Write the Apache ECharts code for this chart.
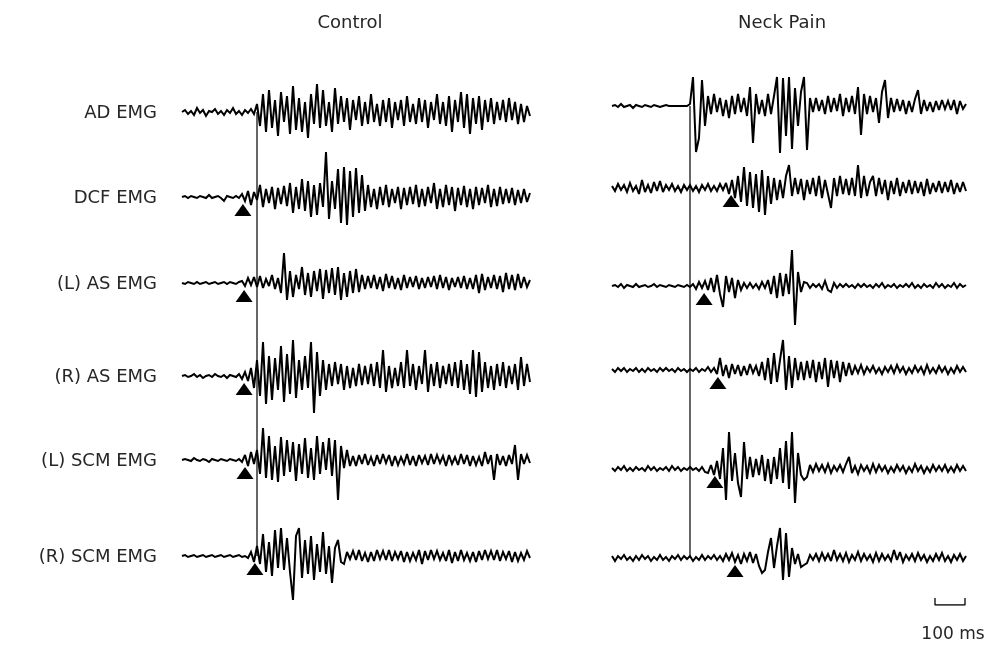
<!DOCTYPE html>
<html>
<head>
<meta charset="utf-8">
<script src="https://cdn.jsdelivr.net/npm/echarts@6/dist/echarts.min.js"></script>
<style>
  html, body { margin: 0; padding: 0; background: #fff; }
  #chart { width: 994px; height: 645px; }
</style>
</head>
<body>
<div id="chart"></div>
<script>
// ---- data -------------------------------------------------------------
const groups = ['Control', 'Neck Pain'];
const muscles = ['AD EMG', 'DCF EMG', '(L) AS EMG', '(R) AS EMG', '(L) SCM EMG', '(R) SCM EMG'];
const sampleMs = 10;          // one sample every 10 ms
const scaleBarMs = 100;

// EMG amplitude (a.u.), Control subject
const controlAD = [0,2,-2,1,-3,4,-1,2,-4,1,0,3,-2,1,-3,2,-1,4,-2,1,-3,2,-1,3,-2,
  8,-14,18,-20,22,-16,12,-24,20,-10,16,-22,26,-18,14,-20,10,-26,18,-12,28,-16,22,-14,10,-20,
  24,-12,16,-10,14,-18,12,-8,16,-14,10,-12,18,-10,8,-14,12,-10,14,-16,10,-8,12,-14,16,-10,8,-12,14,-10,
  12,-16,10,-8,18,-12,10,-14,16,-20,12,-10,20,-16,18,-22,14,-12,16,-18,12,-10,14,-12,10,-8,12,-10,14,-8,10,-12,8,-10,6,-4];
const controlDCF = [0,1,-1,1,0,-1,1,0,-1,2,-1,0,1,-1,-4,1,0,-1,1,-1,
  3,-4,6,-8,5,-3,12,-10,8,-6,10,-12,9,-7,11,-9,
  14,-16,10,-12,18,-14,16,-20,12,-18,14,-10,45,-22,16,-12,28,-26,30,-28,26,-20,29,-16,22,
  -14,12,-10,8,-12,10,-8,12,-10,8,-6,10,-12,9,-8,10,-7,12,-10,8,-9,10,-6,14,-12,8,-10,12,-8,10,
  -14,9,-8,11,-10,8,-12,10,-8,9,-6,12,-10,8,-9,10,-7,8,-6,9,-8,7,-6,8,-5,4];
const controlLAS = [0,-1,1,0,-1,1,-1,0,1,-1,0,1,-1,0,1,-1,1,0,-1,1,
  2,-3,5,-2,6,-4,7,-5,4,-3,8,-6,5,
  -10,30,-17,12,-14,8,-6,16,-12,10,-14,12,-8,14,-16,13,-10,15,-12,16,-17,10,-14,12,-10,14,-9,8,
  -6,7,-5,8,-6,6,-8,9,-5,7,-6,5,-7,8,-5,6,-4,7,-6,5,-5,6,-4,7,-6,8,-5,6,-7,5,
  -4,6,-5,7,-6,5,-6,8,-10,9,-7,6,-5,8,-6,7,-9,10,-6,8,-7,9,-5,6,-4,3];
const controlRAS = [0,1,-1,0,2,-1,1,-2,0,1,-1,2,0,-1,1,-2,1,0,-1,2,-3,4,
  -5,8,-12,16,-20,34,-28,20,-24,18,-14,30,-26,22,-18,36,-22,16,-14,20,-12,34,-37,24,-20,16,
  -14,12,-10,14,-8,12,-14,10,-12,8,-10,12,-9,10,-8,12,-10,14,-12,26,-16,10,-12,8,-10,14,-12,26,-10,12,
  -14,10,-8,26,-16,12,-10,14,-12,10,-8,12,-10,14,-12,16,-14,12,-18,26,-21,24,-16,14,-12,10,-14,12,-10,14,
  -12,10,-8,12,-14,19,-10,12,-6];
const controlLSCM = [0,1,0,-1,2,0,-1,1,0,-2,1,0,-1,1,0,-1,1,0,-1,1,-2,5,
  -6,8,-4,10,-14,32,-18,24,-20,14,-22,23,-16,20,-12,18,-21,16,-14,22,-18,12,-20,24,-14,18,-10,22,-16,20,-40,14,-8,10,-6,
  4,-6,5,-4,6,-5,3,-6,5,-4,6,-3,5,-6,4,-5,3,-4,6,-5,4,-6,5,-3,4,-5,6,-4,5,-3,
  4,-6,5,-4,3,-5,6,-4,5,-6,4,-5,3,-6,8,-4,5,-20,6,-5,4,-6,5,-4,15,-20,6,-4,5,-3];
const controlRSCM = [0,1,-1,0,1,-1,0,1,-1,0,1,-1,0,1,-1,0,1,-1,0,1,-1,0,-2,4,
  -6,10,-8,22,-16,14,-20,26,-12,28,-14,18,-16,-44,20,28,-22,16,-18,20,-24,12,-16,24,-18,10,-27,8,16,-6,
  -8,4,-3,5,-4,6,-5,3,-6,4,-5,6,-3,5,-4,6,-5,4,-3,5,-6,4,-5,3,-4,6,-8,5,-4,6,
  -3,5,-4,3,-5,6,-7,4,-5,6,-4,3,-5,4,-6,5,-4,6,-3,5,-4,6,-5,4,-3,5,-6,4,-5,3,-4,5,-2];

// EMG amplitude (a.u.), Neck Pain subject
const neckAD = [0,1,-1,2,-1,0,1,-2,1,0,-1,1,0,-1,1,0,-1,0,1,0,0,0,0,0,0,0,
  2,29,-46,-32,26,-20,10,-8,12,-6,8,-10,6,-12,10,-8,12,-6,8,-10,
  19,-37,12,-8,6,-10,12,-8,10,29,-47,28,-30,29,-43,18,-20,14,29,-44,8,
  -6,8,-5,6,-8,10,-6,8,-5,12,-10,8,-6,10,-8,19,-29,12,-8,10,-6,8,-17,14,26,-12,8,-6,7,-5,
  6,-8,5,-6,7,16,-8,6,-5,4,-6,5,-4,6,-3,5,-4,6,-8,5,-3,2];
const neckDCF = [2,-3,4,-2,3,-4,5,-3,2,-6,8,-4,3,-5,6,-3,7,-4,3,-2,4,-3,2,-4,3,-2,3,-3,2,-4,3,-2,4,-3,2,-3,4,-2,5,
  -6,8,-10,12,-14,21,-18,16,-20,14,-24,18,-27,12,-16,10,-12,8,
  -10,12,23,-8,10,-6,9,-12,8,-6,10,-8,12,-10,8,-6,-20,10,-8,12,-6,9,-7,10,-8,23,-10,12,-8,6,
  12,-8,10,-6,8,-12,7,-6,10,-8,6,-5,8,-6,7,-5,6,-8,9,-6,5,-4,7,-5,6,-4,8,-6,5,-4,6,-3];
const neckLAS = [0,1,-1,2,-2,1,0,-1,2,-1,0,1,-1,0,2,-1,1,0,-1,1,0,-1,1,0,-1,1,
  -1,2,-3,4,-2,5,-4,8,-6,11,-8,-21,10,-6,8,
  -12,6,-4,3,-2,3,-2,2,-3,4,-2,6,-8,10,-12,13,-10,12,-8,36,-39,14,-6,4,
  3,-2,2,-1,2,-3,5,-4,-6,3,-2,2,-1,2,-1,1,-2,2,-1,2,-1,1,-2,2,-1,3,-2,1,-1,2,
  -2,1,-1,2,-1,3,-2,1,-2,2,-1,1,-2,3,-1,2,-2,1,-1,3,-2,2,-1,1];
const neckRAS = [1,-2,2,-1,2,-2,1,-1,2,-2,1,-2,2,-1,1,-2,2,-1,2,-1,1,-2,2,-1,1,-2,1,-1,2,-2,1,-1,3,-2,2,
  -4,12,-6,5,-8,6,-4,5,-6,4,-5,6,-3,4,
  -6,8,-10,12,-14,17,-12,10,30,-20,14,-18,12,-10,
  8,-10,9,-8,10,-12,8,-9,12,-17,10,-8,9,-12,8,-6,7,-5,
  4,-3,5,-4,3,-2,4,-3,2,-4,3,-2,4,-3,5,-2,3,-4,2,-3,4,-2,3,-4,5,-3,2,-3,4,-2,3,-4,2,-3,4,-2,3,-2];
const neckLSCM = [1,-2,2,-1,3,-2,1,-2,2,-1,1,-2,3,-1,2,-2,1,-1,2,-2,3,-1,2,-2,1,-1,2,-1,1,-2,2,-3,-4,
  4,-6,8,-10,21,-31,37,-12,16,-14,-28,27,-10,12,-8,10,-6,
  14,-12,10,-15,12,-10,21,-14,28,-20,37,-34,16,
  -6,-11,-8,4,-3,5,-2,4,-3,5,-4,3,-2,4,-3,5,12,-4,3,-5,4,-2,3,-4,5,-3,4,-2,3,-4,
  2,-3,4,-2,3,-4,2,-3,5,-2,3,-4,2,-3,4,-2,3,-2,4,-3,2,-3,4,-2,3,-2];
const neckRSCM = [2,-3,2,-1,3,-2,1,-3,2,-2,3,-1,2,-3,1,-2,3,-2,1,-3,2,-1,3,-2,2,-1,2,-3,1,-2,3,-2,2,-1,3,-2,2,
  -3,4,-2,5,-4,3,-6,4,-3,6,-5,4,-8,
  -15,-12,6,20,-10,12,30,-22,25,-19,10,-6,4,
  -9,-7,-5,3,-2,4,-3,5,-2,4,-3,8,-2,4,-3,5,-4,3,-2,6,-3,4,-2,3,-4,5,-3,4,-2,3,
  -3,8,-2,6,-4,3,-2,4,-3,5,-2,3,-4,2,-3,4,-2,5,-3,2,-4,3,-2,4,-3,2];

// common movement onset (vertical line) and per-muscle onsets (triangles), ms
const controlOnsetMs = 250;
const neckOnsetMs = 260;
const controlMuscleOnsetMs = [null, 203, 207, 207, 210, 243];
const neckMuscleOnsetMs = [null, 397, 307, 353, 343, 410];

// ---- layout -----------------------------------------------------------
const INK = '#000';
const TEXT = '#262626';
const FONT = '"DejaVu Sans", "Noto Sans", sans-serif';
const HALF = 50; // half-height of each trace strip, px

const panels = [
  { title: groups[0], titleX: 350, left: 182, width: 348,
    baselines: [112, 197, 283, 376, 460, 556],
    traces: [controlAD, controlDCF, controlLAS, controlRAS, controlLSCM, controlRSCM],
    onset: controlOnsetMs, muscleOnsets: controlMuscleOnsetMs },
  { title: groups[1], titleX: 782, left: 612, width: 354,
    baselines: [106, 188, 286, 370, 469, 558],
    traces: [neckAD, neckDCF, neckLAS, neckRAS, neckLSCM, neckRSCM],
    onset: neckOnsetMs, muscleOnsets: neckMuscleOnsetMs }
];

const grid = [], xAxis = [], yAxis = [], series = [], graphic = [];
const hidden = { show: false };

function addGrid(g, x, y) {
  const idx = grid.length;
  grid.push(Object.assign({ containLabel: false }, g));
  xAxis.push(Object.assign({ type: 'value', gridIndex: idx, show: false, splitLine: hidden }, x));
  yAxis.push(Object.assign({ type: 'value', gridIndex: idx, show: false, splitLine: hidden }, y));
  return idx;
}

panels.forEach(p => {
  const maxMs = (Math.max(...p.traces.map(t => t.length)) - 1) * sampleMs;
  p.traces.forEach((trace, r) => {
    const gi = addGrid(
      { left: p.left, width: p.width, top: p.baselines[r] - HALF, height: 2 * HALF },
      { min: 0, max: maxMs },
      { min: -HALF, max: HALF });
    series.push({
      type: 'line', xAxisIndex: gi, yAxisIndex: gi, clip: false,
      showSymbol: false, silent: true, animation: false,
      lineStyle: { color: INK, width: 2, join: 'miter', miterLimit: 3 },
      data: trace.map((v, i) => [i * sampleMs, v])
    });
    if (p.muscleOnsets[r] != null) {
      series.push({
        type: 'scatter', xAxisIndex: gi, yAxisIndex: gi, clip: false,
        symbol: 'triangle', symbolSize: [17, 12], symbolOffset: [0, 13],
        itemStyle: { color: INK, opacity: 1 }, silent: true, animation: false,
        data: [[p.muscleOnsets[r], 0]]
      });
    }
  });
  // onset line across all channels
  const gl = addGrid(
    { left: p.left, width: p.width, top: p.baselines[0], height: p.baselines[5] - p.baselines[0] },
    { min: 0, max: maxMs }, { min: 0, max: 1 });
  series.push({
    type: 'line', xAxisIndex: gl, yAxisIndex: gl, showSymbol: false, silent: true, animation: false,
    lineStyle: { color: INK, width: 1.2 },
    data: [[p.onset, 0], [p.onset, 1]]
  });
  graphic.push({
    type: 'text', silent: true,
    style: { text: p.title, x: p.titleX, y: 23, fill: TEXT, font: '18px ' + FONT,
      textAlign: 'center', textVerticalAlign: 'middle' }
  });
});

// channel labels
muscles.forEach((m, r) => {
  graphic.push({
    type: 'text', silent: true,
    style: { text: m, x: 157, y: panels[0].baselines[r] + 1, fill: TEXT, font: '18px ' + FONT,
      textAlign: 'right', textVerticalAlign: 'middle' }
  });
});

// time scale bar
const gs = addGrid({ left: 935, width: 30, top: 598, height: 7 },
  { min: 0, max: scaleBarMs }, { min: 0, max: 1 });
series.push({
  type: 'line', xAxisIndex: gs, yAxisIndex: gs, showSymbol: false, silent: true, animation: false,
  lineStyle: { color: INK, width: 1.3 },
  data: [[0, 1], [0, 0], [scaleBarMs, 0], [scaleBarMs, 1]]
});
graphic.push({
  type: 'text', silent: true,
  style: { text: scaleBarMs + ' ms', x: 953, y: 635, fill: TEXT, font: '17px ' + FONT,
    textAlign: 'center', textVerticalAlign: 'middle' }
});

const chart = echarts.init(document.getElementById('chart'), null, { renderer: 'canvas' });
chart.setOption({
  animation: false,
  backgroundColor: '#fff',
  grid, xAxis, yAxis, series, graphic
});
</script>
</body>
</html>
